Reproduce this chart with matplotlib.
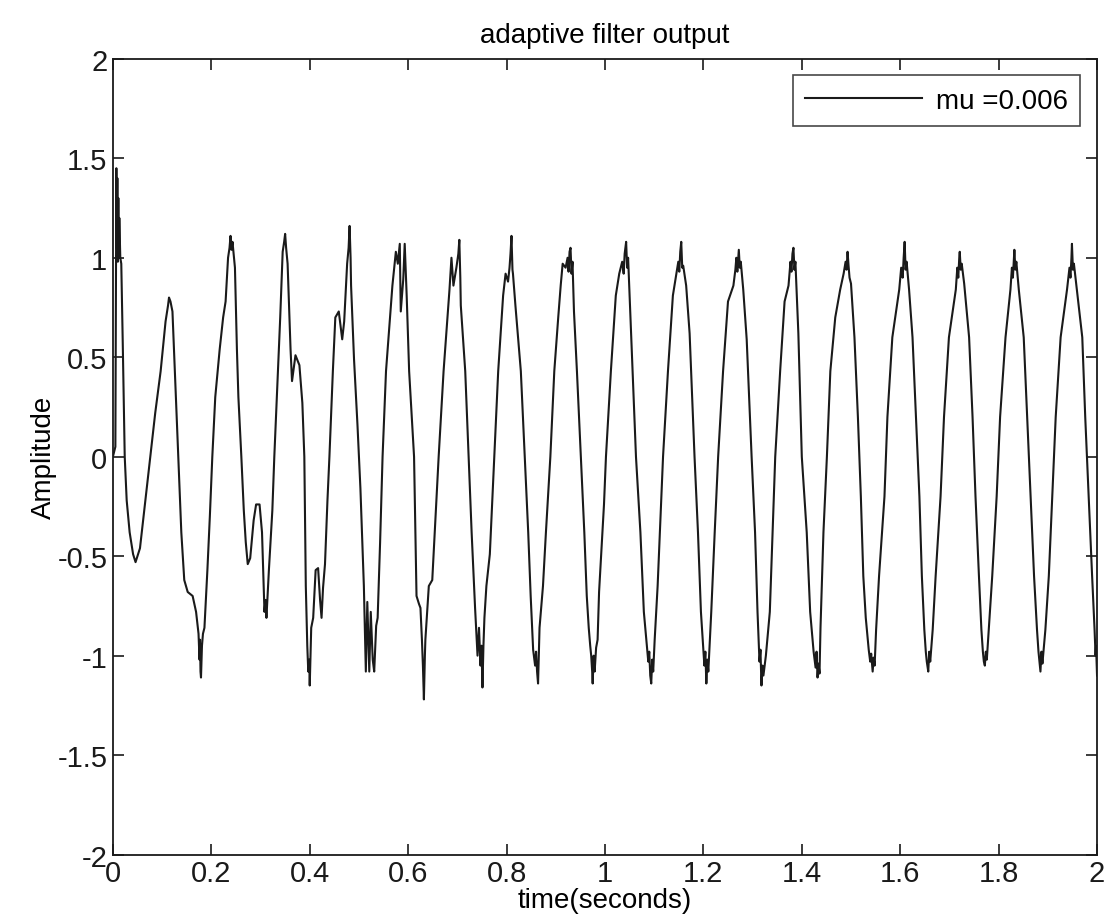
import matplotlib
matplotlib.use("Agg")
import matplotlib.pyplot as plt

plt.rcParams['font.family'] = ['Liberation Sans', 'DejaVu Sans']

# amplitude of the adaptive filter output (time in s)
t_vals = [
    0.000, 0.005, 0.007, 0.008, 0.009, 0.010, 0.011, 0.012, 0.013, 0.015,
    0.017, 0.020, 0.024, 0.028, 0.034, 0.041, 0.046, 0.055, 0.066, 0.076,
    0.086, 0.097, 0.107, 0.112, 0.114, 0.117, 0.121, 0.128, 0.133, 0.139,
    0.145, 0.152, 0.162, 0.169, 0.174, 0.176, 0.177, 0.178, 0.179, 0.181,
    0.183, 0.186, 0.192, 0.197, 0.202, 0.208, 0.217, 0.224, 0.229, 0.234,
    0.237, 0.239, 0.241, 0.243, 0.248, 0.252, 0.255, 0.261, 0.266, 0.270,
    0.274, 0.279, 0.286, 0.291, 0.298, 0.303, 0.308, 0.310, 0.312, 0.317,
    0.324, 0.328, 0.334, 0.340, 0.345, 0.348, 0.350, 0.352, 0.355, 0.361,
    0.364, 0.371, 0.379, 0.385, 0.389, 0.392, 0.395, 0.397, 0.399, 0.400,
    0.403, 0.407, 0.412, 0.417, 0.421, 0.424, 0.427, 0.431, 0.436, 0.440,
    0.447, 0.452, 0.459, 0.466, 0.470, 0.476, 0.479, 0.481, 0.483, 0.484,
    0.490, 0.497, 0.503, 0.510, 0.514, 0.517, 0.521, 0.524, 0.528, 0.531,
    0.535, 0.538, 0.543, 0.548, 0.555, 0.568, 0.575, 0.579, 0.581, 0.583,
    0.585, 0.590, 0.593, 0.597, 0.602, 0.612, 0.617, 0.622, 0.625, 0.628,
    0.630, 0.632, 0.634, 0.635, 0.642, 0.649, 0.657, 0.662, 0.672, 0.684,
    0.688, 0.692, 0.698, 0.702, 0.704, 0.706, 0.707, 0.716, 0.723, 0.729,
    0.736, 0.741, 0.744, 0.747, 0.749, 0.751, 0.753, 0.755, 0.759, 0.766,
    0.775, 0.783, 0.793, 0.798, 0.803, 0.806, 0.808, 0.810, 0.812, 0.813,
    0.818, 0.829, 0.837, 0.844, 0.849, 0.854, 0.858, 0.860, 0.862, 0.864,
    0.866, 0.867, 0.874, 0.880, 0.889, 0.897, 0.905, 0.910, 0.914, 0.920,
    0.924, 0.926, 0.928, 0.930, 0.932, 0.934, 0.937, 0.943, 0.951, 0.958,
    0.963, 0.967, 0.970, 0.972, 0.974, 0.975, 0.977, 0.979, 0.982, 0.985,
    0.988, 0.998, 1.002, 1.012, 1.022, 1.029, 1.035, 1.038, 1.040, 1.043,
    1.045, 1.047, 1.050, 1.056, 1.063, 1.072, 1.079, 1.084, 1.088, 1.090,
    1.092, 1.094, 1.096, 1.098, 1.101, 1.107, 1.118, 1.128, 1.138, 1.145,
    1.149, 1.151, 1.153, 1.155, 1.157, 1.159, 1.165, 1.172, 1.182, 1.189,
    1.195, 1.200, 1.202, 1.204, 1.206, 1.208, 1.210, 1.216, 1.223, 1.230,
    1.240, 1.250, 1.261, 1.265, 1.267, 1.269, 1.272, 1.274, 1.276, 1.281,
    1.288, 1.298, 1.305, 1.310, 1.314, 1.316, 1.318, 1.320, 1.322, 1.327,
    1.335, 1.346, 1.356, 1.365, 1.373, 1.377, 1.379, 1.381, 1.383, 1.385,
    1.387, 1.393, 1.400, 1.410, 1.417, 1.424, 1.428, 1.430, 1.432, 1.434,
    1.436, 1.438, 1.444, 1.451, 1.458, 1.468, 1.478, 1.485, 1.489, 1.491,
    1.493, 1.495, 1.497, 1.500, 1.507, 1.514, 1.520, 1.525, 1.530, 1.536,
    1.539, 1.541, 1.544, 1.546, 1.548, 1.551, 1.557, 1.568, 1.574, 1.584,
    1.598, 1.602, 1.605, 1.607, 1.609, 1.611, 1.613, 1.618, 1.625, 1.632,
    1.639, 1.644, 1.649, 1.652, 1.654, 1.657, 1.659, 1.661, 1.666, 1.672,
    1.682, 1.689, 1.699, 1.713, 1.716, 1.718, 1.720, 1.721, 1.723, 1.725,
    1.730, 1.740, 1.747, 1.753, 1.760, 1.765, 1.768, 1.770, 1.772, 1.774,
    1.776, 1.780, 1.787, 1.796, 1.803, 1.814, 1.824, 1.827, 1.829, 1.831,
    1.832, 1.834, 1.836, 1.841, 1.851, 1.858, 1.865, 1.872, 1.878, 1.881,
    1.883, 1.885, 1.887, 1.889, 1.895, 1.902, 1.909, 1.916, 1.926, 1.939,
    1.944, 1.946, 1.948, 1.949, 1.951, 1.953, 1.959, 1.970, 1.976, 1.983,
    1.990, 1.995, 1.997, 1.998, 2.000,
]
amp_vals = [
    0.00, 0.05, 1.45, 1.05, 1.40, 0.98, 1.30, 1.00, 1.20, 1.00,
    0.97, 0.57, 0.00, -0.22, -0.38, -0.49, -0.53, -0.46, -0.22, 0.00,
    0.22, 0.43, 0.68, 0.76, 0.80, 0.78, 0.73, 0.30, 0.00, -0.38,
    -0.62, -0.68, -0.70, -0.78, -0.89, -1.02, -0.92, -1.08, -1.11, -0.95,
    -0.89, -0.86, -0.57, -0.30, 0.00, 0.30, 0.54, 0.70, 0.78, 1.00,
    1.05, 1.11, 1.04, 1.08, 0.95, 0.54, 0.30, 0.00, -0.27, -0.43,
    -0.54, -0.51, -0.32, -0.24, -0.24, -0.38, -0.78, -0.72, -0.81, -0.57,
    -0.27, 0.00, 0.35, 0.70, 1.03, 1.08, 1.12, 1.05, 0.97, 0.54,
    0.38, 0.51, 0.46, 0.27, 0.00, -0.65, -0.95, -1.08, -1.02, -1.15,
    -0.86, -0.81, -0.57, -0.56, -0.72, -0.81, -0.66, -0.54, -0.22, 0.00,
    0.43, 0.70, 0.73, 0.59, 0.68, 0.97, 1.05, 1.16, 1.00, 0.86,
    0.49, 0.16, -0.16, -0.65, -1.08, -0.73, -1.08, -0.78, -1.02, -1.08,
    -0.85, -0.81, -0.43, 0.00, 0.43, 0.86, 1.03, 0.97, 1.02, 1.07,
    0.73, 0.89, 1.07, 0.81, 0.43, 0.00, -0.70, -0.74, -0.76, -0.92,
    -1.05, -1.22, -1.00, -0.92, -0.65, -0.62, -0.24, 0.00, 0.43, 0.84,
    1.00, 0.86, 0.95, 1.02, 1.09, 0.90, 0.76, 0.43, 0.00, -0.38,
    -0.76, -1.00, -0.86, -1.05, -0.95, -1.16, -0.95, -0.81, -0.65, -0.49,
    0.00, 0.43, 0.81, 0.92, 0.88, 0.95, 1.02, 1.11, 0.94, 0.92,
    0.76, 0.43, 0.00, -0.38, -0.70, -0.97, -1.05, -0.98, -1.08, -1.14,
    -0.95, -0.86, -0.65, -0.38, 0.00, 0.43, 0.70, 0.86, 0.97, 0.95,
    1.00, 0.93, 1.03, 1.05, 0.92, 0.98, 0.73, 0.43, 0.00, -0.38,
    -0.70, -0.86, -0.95, -1.00, -1.08, -1.14, -1.00, -1.08, -0.96, -0.92,
    -0.68, -0.24, 0.00, 0.43, 0.81, 0.92, 0.98, 0.92, 1.02, 1.08,
    0.95, 1.00, 0.81, 0.43, 0.00, -0.38, -0.78, -0.92, -1.03, -0.98,
    -1.10, -1.14, -1.02, -1.08, -0.92, -0.65, 0.00, 0.43, 0.81, 0.92,
    0.98, 0.93, 1.03, 1.08, 0.95, 0.96, 0.86, 0.62, 0.00, -0.38,
    -0.78, -0.97, -1.05, -0.98, -1.14, -1.02, -1.08, -0.78, -0.38, 0.00,
    0.43, 0.78, 0.86, 0.94, 1.00, 0.93, 1.04, 0.95, 0.98, 0.84,
    0.59, 0.00, -0.38, -0.78, -1.03, -0.97, -1.15, -1.05, -1.10, -1.00,
    -0.78, 0.00, 0.43, 0.78, 0.86, 0.98, 0.93, 1.02, 1.05, 0.94,
    0.98, 0.62, 0.00, -0.38, -0.78, -0.98, -1.06, -0.98, -1.11, -1.04,
    -1.09, -0.86, -0.38, 0.00, 0.43, 0.70, 0.84, 0.92, 0.98, 0.94,
    1.03, 0.96, 0.90, 0.87, 0.60, 0.20, -0.20, -0.60, -0.81, -0.97,
    -1.03, -0.99, -1.08, -1.01, -1.05, -0.87, -0.60, -0.20, 0.20, 0.60,
    0.84, 0.95, 0.90, 1.00, 1.08, 0.94, 0.98, 0.84, 0.60, 0.20,
    -0.20, -0.60, -0.87, -0.98, -1.03, -1.08, -0.98, -1.03, -0.87, -0.60,
    -0.20, 0.20, 0.60, 0.84, 0.95, 0.90, 1.00, 1.03, 0.94, 0.97,
    0.87, 0.60, 0.20, -0.20, -0.60, -0.87, -0.98, -1.03, -1.05, -0.98,
    -1.02, -0.87, -0.60, -0.20, 0.20, 0.60, 0.84, 0.95, 0.90, 1.00,
    1.04, 0.94, 0.98, 0.84, 0.60, 0.20, -0.20, -0.60, -0.87, -0.98,
    -1.03, -1.08, -0.98, -1.04, -0.87, -0.60, -0.20, 0.20, 0.60, 0.84,
    0.95, 0.90, 1.00, 1.07, 0.94, 0.97, 0.84, 0.60, 0.20, -0.20,
    -0.60, -0.87, -1.00, -0.95, -1.10,
]

x_ticks = [0, 0.2, 0.4, 0.6, 0.8, 1, 1.2, 1.4, 1.6, 1.8, 2]
x_labels = ['0', '0.2', '0.4', '0.6', '0.8', '1', '1.2', '1.4', '1.6', '1.8', '2']
y_ticks = [-2, -1.5, -1, -0.5, 0, 0.5, 1, 1.5, 2]
y_labels = ['-2', '-1.5', '-1', '-0.5', '0', '0.5', '1', '1.5', '2']

fig = plt.figure(figsize=(11.07, 9.2), dpi=100)
ax = fig.add_axes([0.102, 0.07, 0.889, 0.865])

ax.plot(t_vals, amp_vals, color='#1a1a1a', linewidth=1.5, label='mu =0.006')

ax.set_xlim(0, 2)
ax.set_ylim(-2, 2)
ax.set_xticks(x_ticks)
ax.set_xticklabels(x_labels)
ax.set_yticks(y_ticks)
ax.set_yticklabels(y_labels)
ax.tick_params(direction='in', length=8, width=1.2, top=True, right=True,
               labelsize=21, colors='#1a1a1a', pad=4)
ax.tick_params(axis='x', pad=3)
for s in ax.spines.values():
    s.set_linewidth(1.3)
    s.set_color('#1a1a1a')

ax.set_title('adaptive filter output', fontsize=20, pad=12)
ax.set_xlabel('time(seconds)', fontsize=20, labelpad=0)
ax.set_ylabel('Amplitude', fontsize=20, labelpad=0)

leg = ax.legend(loc='upper right', fontsize=20, frameon=True, fancybox=False,
                handlelength=4.2, handletextpad=0.5, borderaxespad=0.6,
                borderpad=0.45)
leg.get_frame().set_edgecolor('#1a1a1a')
leg.get_frame().set_linewidth(1.2)

fig.savefig('out.png', dpi=100)
